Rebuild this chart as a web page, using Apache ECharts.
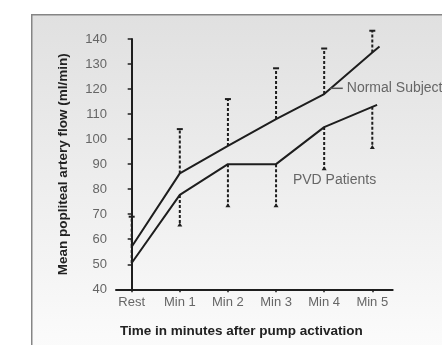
<!DOCTYPE html>
<html>
<head>
<meta charset="utf-8">
<script src="https://cdn.jsdelivr.net/npm/echarts@6/dist/echarts.min.js"></script>
<style>
html, body { margin: 0; padding: 0; background: #fff; }
#chart { width: 442px; height: 345px; }
</style>
</head>
<body>
<div id="chart"></div>
<script>
// values
const categories = ['Rest', 'Min 1', 'Min 2', 'Min 3', 'Min 4', 'Min 5'];
const normalFlow = [57, 86.3, 97.3, 108, 118, 134.6];
const pvdFlow = [50.5, 77.7, 90, 90, 104.8, 112.9];
// where each drawn line stops, a little past Min 5
const normalEnd = [5.15, 137];
const pvdEnd = [5.1, 113.7];
// error bar limits (normal goes up, PVD goes down)
const normalLimit = [69, 104, 116, 128.3, 136.2, 143.3];
const pvdLimit = [57, 65.5, 73.2, 73.2, 88, 96.5];
const yTicks = [40, 50, 60, 70, 80, 90, 100, 110, 120, 130, 140];

const FONT = '"Liberation Sans", Arial, sans-serif';
const INK = '#1e1e1e';

const chart = echarts.init(document.getElementById('chart'));

function lineData(vals, end) {
    return vals.map((v, i) => [i, v]).concat([end]);
}

function errorBar(capKind) {
    return function (params, api) {
        const x = api.value(0);
        const from = api.coord([x, api.value(1)]);
        const to = api.coord([x, api.value(2)]);
        const children = [{
            type: 'line',
            shape: { x1: from[0], y1: from[1], x2: to[0], y2: to[1] },
            style: { stroke: INK, lineWidth: 2, lineDash: [3, 2] }
        }];
        if (capKind === 'tee') {
            children.push({
                type: 'line',
                shape: { x1: to[0] - 3, y1: to[1], x2: to[0] + 3, y2: to[1] },
                style: { stroke: INK, lineWidth: 2 }
            });
        } else if (params.dataIndex > 0) {
            children.push({
                type: 'polygon',
                shape: { points: [[to[0] - 2.5, to[1] + 1], [to[0] + 2.5, to[1] + 1], [to[0], to[1] - 3]] },
                style: { fill: INK }
            });
        }
        return { type: 'group', children };
    };
}

chart.setOption({
    animation: false,
    textStyle: { fontFamily: FONT },
    graphic: [{
        type: 'rect',
        left: 31,
        top: 14,
        z: -10,
        shape: { width: 480, height: 400 },
        style: {
            fill: new echarts.graphic.LinearGradient(0, 0, 0, 1, [
                { offset: 0, color: '#e0e0e0' },
                { offset: 0.8, color: '#fafafa' },
                { offset: 1, color: '#ffffff' }
            ]),
            stroke: '#858585',
            lineWidth: 1.5
        }
    }],
    grid: { left: 116, right: 49.3, top: 39, bottom: 55.7 },
    xAxis: {
        type: 'value',
        min: -0.326,
        max: 5.424,
        name: 'Time in minutes after pump activation',
        nameLocation: 'middle',
        nameGap: 35,
        nameTextStyle: { fontWeight: 'bold', fontSize: 13.5, color: '#222', padding: [0, 26, 0, 0] },
        splitLine: { show: false },
        axisLine: { show: true, lineStyle: { color: INK, width: 2 } },
        axisTick: {
            show: true,
            customValues: categories.map((c, i) => i),
            length: 3,
            lineStyle: { color: INK, width: 1.5 }
        },
        axisLabel: {
            customValues: categories.map((c, i) => i),
            formatter: v => categories[Math.round(v)],
            fontSize: 13,
            color: '#666',
            margin: 7
        }
    },
    yAxis: {
        type: 'value',
        min: 40,
        max: 140,
        interval: 10,
        name: 'Mean popliteal artery flow (ml/min)',
        nameLocation: 'middle',
        nameGap: 46,
        nameTextStyle: { fontWeight: 'bold', fontSize: 13.5, color: '#222' },
        splitLine: { show: false },
        axisLine: { show: true, lineStyle: { color: INK, width: 2 } },
        axisTick: { show: true, length: 4, lineStyle: { color: INK, width: 1.5 } },
        axisLabel: {
            customValues: yTicks,
            fontSize: 13,
            color: '#666',
            margin: 9
        }
    },
    series: [
        {
            name: 'Normal error',
            type: 'custom',
            z: 1,
            renderItem: errorBar('tee'),
            data: normalFlow.map((v, i) => [i, v, normalLimit[i]])
        },
        {
            name: 'PVD error',
            type: 'custom',
            z: 1,
            renderItem: errorBar('tri'),
            data: pvdFlow.map((v, i) => [i, v, pvdLimit[i]])
        },
        {
            name: 'Normal Subjects',
            type: 'line',
            z: 3,
            symbol: 'none',
            lineStyle: { color: INK, width: 2 },
            data: lineData(normalFlow, normalEnd)
        },
        {
            name: 'PVD Patients',
            type: 'line',
            z: 3,
            symbol: 'none',
            lineStyle: { color: INK, width: 2 },
            data: lineData(pvdFlow, pvdEnd)
        },
        {
            name: 'labels',
            type: 'custom',
            z: 4,
            renderItem: function (params, api) {
                const p = api.coord([api.value(0), api.value(1)]);
                const children = [{
                    type: 'text',
                    x: p[0],
                    y: p[1],
                    style: {
                        text: ['Normal Subjects', 'PVD Patients'][params.dataIndex],
                        fill: '#666',
                        fontSize: 14,
                        fontFamily: FONT,
                        verticalAlign: 'middle'
                    }
                }];
                if (params.dataIndex === 0) {
                    const a = api.coord([4.12, api.value(1)]);
                    children.push({
                        type: 'line',
                        shape: { x1: a[0], y1: a[1], x2: p[0] - 4, y2: p[1] },
                        style: { stroke: '#555', lineWidth: 1.5 }
                    });
                }
                return { type: 'group', children };
            },
            data: [[4.47, 120.3], [3.35, 83.6]]
        }
    ]
});
</script>
</body>
</html>
